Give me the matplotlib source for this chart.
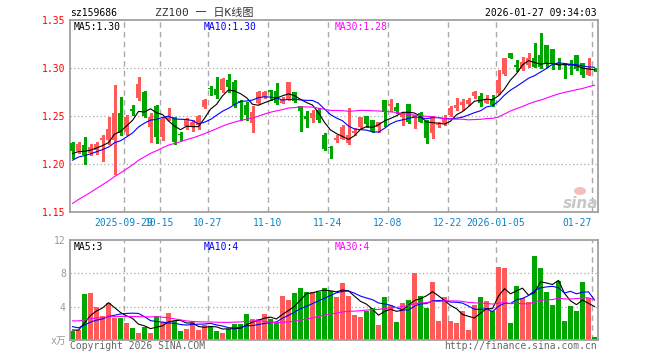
import numpy as np
import matplotlib
matplotlib.use("Agg")
import matplotlib.pyplot as plt
from matplotlib.patches import Ellipse

# ---------------- data ----------------
opens = [1.2215, 1.2139, 1.2198, 1.2118, 1.2146, 1.2250, 1.2250, 1.2250, 1.2531, 1.2337,
         1.2570, 1.2684, 1.2753, 1.2389, 1.2604, 1.2285, 1.2465, 1.2486, 1.2306, 1.2396,
         1.2389, 1.2406, 1.2590, 1.2785, 1.2781, 1.2771, 1.2875, 1.2858, 1.2656, 1.2615,
         1.2424, 1.2632, 1.2694, 1.2771, 1.2760, 1.2639, 1.2667, 1.2750, 1.2604, 1.2500,
         1.2476, 1.2563, 1.2302, 1.2167, 1.2250, 1.2257, 1.2215, 1.2319, 1.2389, 1.2500,
         1.2458, 1.2389, 1.2667, 1.2608, 1.2597, 1.2486, 1.2625, 1.2476, 1.2528, 1.2448,
         1.2319, 1.2403, 1.2424, 1.2510, 1.2580, 1.2615, 1.2622, 1.2708, 1.2708, 1.2639,
         1.2674, 1.2736, 1.2938, 1.3153, 1.3031, 1.2986, 1.3031, 1.3101, 1.3135, 1.3240,
         1.3194, 1.3049, 1.3035, 1.3035, 1.3135, 1.3049, 1.2931, 1.2993]
highs = [1.2233, 1.2233, 1.2278, 1.2208, 1.2233, 1.2302, 1.2493, 1.2819, 1.2694, 1.2510,
         1.2615, 1.2910, 1.2760, 1.2528, 1.2615, 1.2493, 1.2580, 1.2493, 1.2337, 1.2483,
         1.2458, 1.2510, 1.2674, 1.2812, 1.2903, 1.2892, 1.2938, 1.2875, 1.2667, 1.2649,
         1.2604, 1.2764, 1.2760, 1.2771, 1.2840, 1.2694, 1.2854, 1.2750, 1.2604, 1.2556,
         1.2563, 1.2580, 1.2319, 1.2188, 1.2302, 1.2406, 1.2580, 1.2372, 1.2493, 1.2500,
         1.2458, 1.2441, 1.2667, 1.2674, 1.2639, 1.2545, 1.2625, 1.2510, 1.2545, 1.2458,
         1.2500, 1.2441, 1.2510, 1.2604, 1.2684, 1.2674, 1.2684, 1.2764, 1.2743, 1.2719,
         1.2719, 1.2979, 1.3108, 1.3153, 1.3083, 1.3111, 1.3153, 1.3264, 1.3368, 1.3240,
         1.3194, 1.3101, 1.3049, 1.3083, 1.3135, 1.3049, 1.3108, 1.2997]
lows = [1.2059, 1.2111, 1.2000, 1.2094, 1.2104, 1.2035, 1.2208, 1.1896, 1.2302, 1.2302,
        1.2510, 1.2667, 1.2493, 1.2233, 1.2222, 1.2250, 1.2458, 1.2208, 1.2250, 1.2361,
        1.2347, 1.2361, 1.2580, 1.2722, 1.2684, 1.2753, 1.2753, 1.2597, 1.2458, 1.2458,
        1.2337, 1.2625, 1.2684, 1.2667, 1.2625, 1.2632, 1.2667, 1.2649, 1.2347, 1.2389,
        1.2441, 1.2441, 1.2146, 1.2066, 1.2233, 1.2257, 1.2208, 1.2302, 1.2372, 1.2389,
        1.2337, 1.2337, 1.2399, 1.2556, 1.2528, 1.2406, 1.2424, 1.2372, 1.2441, 1.2222,
        1.2267, 1.2389, 1.2406, 1.2500, 1.2563, 1.2563, 1.2615, 1.2684, 1.2604, 1.2632,
        1.2604, 1.2729, 1.2927, 1.3101, 1.2972, 1.2979, 1.3014, 1.3014, 1.2997, 1.3014,
        1.2986, 1.2986, 1.2892, 1.2937, 1.2979, 1.2903, 1.2924, 1.2972]
closes = [1.2139, 1.2208, 1.2094, 1.2181, 1.2208, 1.2267, 1.2365, 1.2531, 1.2326, 1.2493,
          1.2556, 1.2833, 1.2500, 1.2493, 1.2285, 1.2465, 1.2500, 1.2233, 1.2302, 1.2469,
          1.2441, 1.2500, 1.2667, 1.2778, 1.2719, 1.2885, 1.2806, 1.2615, 1.2639, 1.2510,
          1.2542, 1.2753, 1.2750, 1.2750, 1.2632, 1.2667, 1.2854, 1.2660, 1.2556, 1.2465,
          1.2535, 1.2458, 1.2153, 1.2163, 1.2274, 1.2389, 1.2302, 1.2347, 1.2493, 1.2417,
          1.2347, 1.2441, 1.2545, 1.2622, 1.2556, 1.2528, 1.2441, 1.2510, 1.2441, 1.2274,
          1.2486, 1.2413, 1.2465, 1.2587, 1.2615, 1.2649, 1.2667, 1.2753, 1.2632, 1.2677,
          1.2615, 1.2875, 1.3108, 1.3101, 1.3007, 1.3066, 1.3101, 1.3014, 1.3014, 1.3049,
          1.3049, 1.3035, 1.3028, 1.3021, 1.2986, 1.2924, 1.2993, 1.2976]
volumes = [1.1, 1.2, 5.5, 5.6, 4.0, 2.9, 4.4, 2.6, 2.6, 2.0,
           1.4, 0.9, 1.6, 0.9, 2.9, 2.2, 3.3, 2.3, 1.1, 1.3,
           2.2, 1.2, 1.8, 1.6, 1.1, 0.9, 1.3, 1.9, 1.9, 3.1,
           2.5, 2.5, 3.1, 2.5, 2.0, 5.3, 4.8, 5.6, 6.3, 5.8,
           5.8, 5.8, 6.2, 5.9, 5.2, 6.9, 5.3, 3.0, 2.8, 3.5,
           3.8, 1.8, 5.2, 4.2, 2.2, 4.5, 4.8, 8.0, 5.3, 3.9,
           7.0, 2.3, 5.2, 2.3, 2.0, 3.5, 1.2, 4.2, 5.2, 4.7,
           3.5, 8.8, 8.6, 2.1, 6.5, 5.1, 4.6, 10.1, 8.6, 5.8,
           4.2, 7.1, 2.3, 4.1, 3.5, 7.0, 5.1, 0.4]
# closes / volumes of the 29 sessions before the window (estimated from the MA lines)
prior_closes = [1.095, 1.100, 1.105, 1.100, 1.110, 1.115, 1.120, 1.118, 1.125,
                1.130, 1.138, 1.142, 1.140, 1.148,
                1.155, 1.165, 1.170, 1.178, 1.182, 1.190, 1.188, 1.195,
                1.200, 1.198, 1.205, 1.210, 1.208, 1.212, 1.210]
prior_volumes = [1.4, 1.8, 1.5, 1.7, 1.6, 1.5, 1.7,
                 1.9, 1.6, 1.8, 1.5, 2.0, 1.7, 1.8,
                 4.2, 5.5, 6.0, 4.8, 5.0, 4.0,
                 2.6, 2.2, 1.9, 1.8, 1.5,
                 1.3, 1.2, 1.1, 1.3]
tick_index = [9, 15, 23, 33, 43, 53, 63, 71, 87]
tick_labels = ["2025-09-29", "10-15", "10-27", "11-10", "11-24", "12-08", "12-22", "2026-01-05", "01-27"]
price_ticks = [1.15, 1.20, 1.25, 1.30, 1.35]
volume_ticks = [0, 4, 8, 12]
volume_tick_labels = ["x万", "4", "8", "12"]
ma_periods = [5, 10, 30]
ma_colors = ["#000000", "#0000ff", "#ff00ff"]
price_ma_text = ["MA5:1.30", "MA10:1.30", "MA30:1.28"]
vol_ma_text = ["MA5:3", "MA10:4", "MA30:4"]

# ---------------- figure ----------------
W, H = 660, 360
fig = plt.figure(figsize=(W / 100, H / 100), dpi=100)
fig.patch.set_facecolor("white")
MONO = "DejaVu Sans Mono"
CJK = [MONO, "Noto Sans CJK SC"]

def rect(x0, y0, x1, y1):
    return [x0 / W, 1 - y1 / H, (x1 - x0) / W, (y1 - y0) / H]

ax1 = fig.add_axes(rect(70, 20, 598, 212))
ax2 = fig.add_axes(rect(70, 240, 598, 340))

n = len(closes)
x = np.arange(n)
xmin = -2.5 / 6
xlim = (xmin, xmin + n)
bw = 5 / 6
red, green = "#ff5a5a", "#00a600"

o = np.array(opens); c = np.array(closes); hi = np.array(highs); lo = np.array(lows)
v = np.array(volumes)
up = c >= o
cols = np.where(up, red, green)

# moving averages
allc = np.concatenate([prior_closes, closes])
allv = np.concatenate([prior_volumes, volumes])
k0 = len(prior_closes)

def ma(arr, p):
    return np.array([arr[k0 + i - p + 1:k0 + i + 1].mean() for i in range(n)])

grid_x = [i + xmin for i in tick_index]
for ax in (ax1, ax2):
    ax.set_xlim(*xlim)
    for gx in grid_x:
        ax.axvline(gx, color="#aaaaaa", lw=1.0, ls=(0, (4, 3)), zorder=0)
    for s in ax.spines.values():
        s.set_color("#a0a0a0")
        s.set_linewidth(1.3)
    ax.tick_params(length=0)

# price panel
ax1.set_ylim(1.15, 1.35)
for yv in [1.20, 1.25, 1.30]:
    ax1.axhline(yv, color="#aaaaaa", lw=0.9, ls=(0, (1, 2)), zorder=0)
ax1.vlines(x, lo, hi, colors=cols, lw=0.8, zorder=2, antialiased=False)
body_h = np.maximum(np.abs(c - o), 0.0011)
ax1.bar(x, body_h, bottom=np.minimum(o, c), width=bw, color=cols, lw=0, zorder=3,
        antialiased=False)
for p, col in zip(ma_periods, ma_colors):
    ax1.plot(x, ma(allc, p), color=col, lw=0.8, zorder=4)
ax1.set_xticks(grid_x)
ax1.set_xticklabels(tick_labels, fontfamily=MONO, fontsize=7, color="#0a84c8")
ax1.get_xticklabels()[-1].set_horizontalalignment("right")
ax1.tick_params(axis="x", pad=4)
ax1.set_yticks(price_ticks)
ax1.set_yticklabels([f"{t:.2f}" for t in price_ticks], fontfamily=MONO, fontsize=7, color="#ff0000")
ax1.tick_params(axis="y", pad=3)

# volume panel
ax2.set_ylim(0, 12)
for yv in [4, 8]:
    ax2.axhline(yv, color="#aaaaaa", lw=0.9, ls=(0, (1, 2)), zorder=0)
ax2.bar(x, v, width=bw, color=cols, lw=0, zorder=2, antialiased=False)
for p, col in zip(ma_periods, ma_colors):
    ax2.plot(x, ma(allv, p), color=col, lw=0.8, zorder=4)
ax2.set_xticks([])
ax2.set_yticks(volume_ticks)
ax2.set_yticklabels(volume_tick_labels, fontsize=7, color="#999999")
for t in ax2.get_yticklabels():
    t.set_family(CJK)
ax2.tick_params(axis="y", pad=3)

def ftext(px, py, s, **kw):
    kw.setdefault("fontfamily", MONO)
    kw.setdefault("fontsize", 7)
    fig.text(px / W, 1 - py / H, s, **kw)

# header
ftext(70, 13, "sz159686", va="center", ha="left", color="#000000")
ftext(204, 13, "ZZ100 一 日K线图", va="center", ha="center", color="#333333",
      fontfamily=CJK, fontsize=8)
ftext(597, 13, "2026-01-27 09:34:03", va="center", ha="right", color="#000000")

# MA legends
for px, s, col in zip([74, 204, 335], price_ma_text, ma_colors):
    ftext(px, 27, s, va="center", ha="left", color=col)
for px, s, col in zip([74, 204, 335], vol_ma_text, ma_colors):
    ftext(px, 247, s, va="center", ha="left", color=col)

# footer
ftext(70, 346, "Copyright 2026 SINA.COM", va="center", ha="left", color="#666666")
ftext(597, 346, "http://finance.sina.com.cn", va="center", ha="right", color="#666666")

# sina watermark
ftext(581, 203, "sina", va="center", ha="center", color="#c8c8c8", fontfamily="DejaVu Sans",
      fontsize=11, fontweight="bold", style="italic")
fig.patches.append(Ellipse((580 / W, 1 - 191 / H), 12 / W, 8 / H, transform=fig.transFigure,
                           facecolor="#f4b0b0", edgecolor="none", alpha=0.8))

fig.savefig("out.png", dpi=100)
